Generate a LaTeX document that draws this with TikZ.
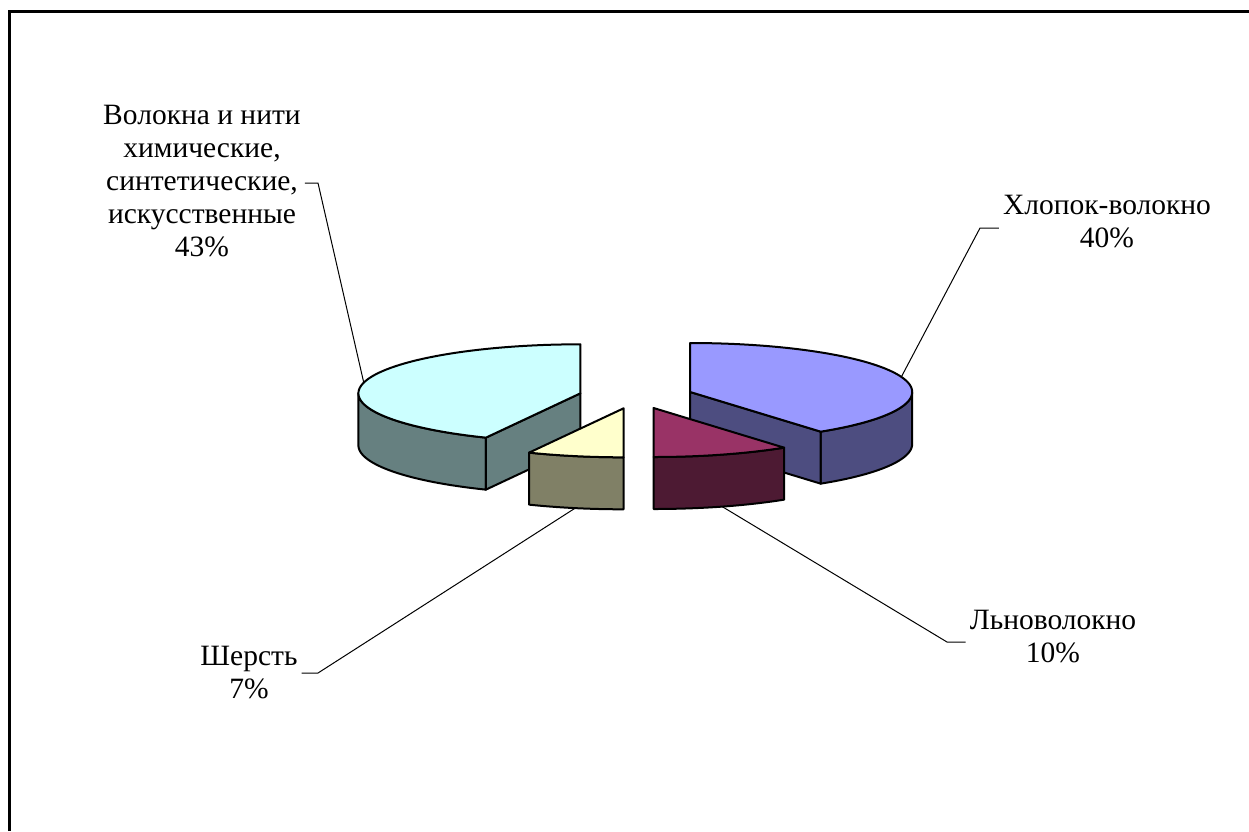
\documentclass[tikz,border=0pt]{standalone}
\usepackage{fontspec}
\setmainfont{Liberation Serif}
\usetikzlibrary{positioning, calc}
\definecolor{fibretop}{HTML}{CCFFFF}
\definecolor{fibreside}{HTML}{668080}
\definecolor{cottontop}{HTML}{9999FF}
\definecolor{cottonside}{HTML}{4D4D80}
\definecolor{flaxtop}{HTML}{993366}
\definecolor{flaxside}{HTML}{4D1A33}
\definecolor{wooltop}{HTML}{FFFFCC}
\definecolor{woolside}{HTML}{808066}

\begin{document}
\begin{tikzpicture}[
        x=1pt, y=-1pt,
        face/.style={draw=black, line width=2pt, line join=round},
        lbl/.style={align=center, font=\fontsize{29.5}{33}\selectfont, inner sep=4pt},
        leader/.style={line width=1pt},
        frame/.style={line width=2.5pt},
        declare function={ex(\t)=222*sin(\t); ey(\t)=-49*cos(\t);}
    ]
        \useasboundingbox (0,0) rectangle (1249,831);
        \draw[frame] (9.7,831) -- (9.7,11.7) -- (1249,11.7);

        % Back left: chemical fibres (205.2 -> 360)
        \draw[face, fill=fibreside] plot[domain=205.2:270, samples=40, variable=\t] ({580.4+ex(\t)},{393.3+ey(\t)})
            -- plot[domain=270:205.2, samples=40, variable=\t] ({580.4+ex(\t)},{445.3+ey(\t)}) -- cycle;
        \draw[face, fill=fibreside] (580.4,393.3) -- ({580.4+ex(205.2)},{393.3+ey(205.2)}) -- ++(0,52) -- (580.4,445.3) -- cycle;
        \draw[face, fill=fibretop] (580.4,393.3) -- plot[domain=205.2:360, samples=80, variable=\t] ({580.4+ex(\t)},{393.3+ey(\t)}) -- cycle;

        % Back right: cotton (0 -> 144)
        \draw[face, fill=cottonside] plot[domain=90:144, samples=40, variable=\t] ({690.2+ex(\t)},{392.0+ey(\t)})
            -- plot[domain=144:90, samples=40, variable=\t] ({690.2+ex(\t)},{444.0+ey(\t)}) -- cycle;
        \draw[face, fill=cottonside] (690.2,392.0) -- ({690.2+ex(144)},{392.0+ey(144)}) -- ++(0,52) -- (690.2,444.0) -- cycle;
        \draw[face, fill=cottontop] (690.2,392.0) -- plot[domain=0:144, samples=80, variable=\t] ({690.2+ex(\t)},{392.0+ey(\t)}) -- cycle;

        % Front left: wool (180 -> 205.2)
        \draw[face, fill=woolside] plot[domain=180:205.2, samples=30, variable=\t] ({623.6+ex(\t)},{408.3+ey(\t)})
            -- plot[domain=205.2:180, samples=30, variable=\t] ({623.6+ex(\t)},{460.3+ey(\t)}) -- cycle;
        \draw[face, fill=wooltop] (623.6,408.3) -- plot[domain=180:205.2, samples=30, variable=\t] ({623.6+ex(\t)},{408.3+ey(\t)}) -- cycle;

        % Front right: flax (144 -> 180)
        \draw[face, fill=flaxside] plot[domain=144:180, samples=30, variable=\t] ({653.6+ex(\t)},{408.0+ey(\t)})
            -- plot[domain=180:144, samples=30, variable=\t] ({653.6+ex(\t)},{460.0+ey(\t)}) -- cycle;
        \draw[face, fill=flaxtop] (653.6,408.0) -- plot[domain=144:180, samples=30, variable=\t] ({653.6+ex(\t)},{408.0+ey(\t)}) -- cycle;

        % Leader ends on the slices
        \coordinate (fibrept) at ({580.4+ex(282.6)},{393.3+ey(282.6)});
        \coordinate (cottonpt) at ({690.2+ex(72)},{392.0+ey(72)});
        \coordinate (flaxpt) at ({653.6+ex(162)},{460.0+ey(162)});
        \coordinate (woolpt) at ({623.6+ex(192.6)},{460.3+ey(192.6)});

        % Labels
        \node[lbl] (fibrelbl) at (202,181) {Волокна и нити\\химические,\\синтетические,\\искусственные\\43\%};
        \node[lbl] (cottonlbl) at (1107,222) {Хлопок-волокно\\40\%};
        \node[lbl] (flaxlbl) at (1053,637) {Льноволокно\\10\%};
        \node[lbl] (woollbl) at (249,673) {Шерсть\\7\%};

        % Leaders
        \coordinate (fibrekink) at (318,183);
        \coordinate (cottonkink) at (980,228);
        \coordinate (flaxkink) at (947,642);
        \coordinate (woolkink) at (318,673);
        \draw[leader] (fibrept) -- (fibrekink) -- (fibrelbl.east |- fibrekink);
        \draw[leader] (cottonpt) -- (cottonkink) -- (cottonlbl.west |- cottonkink);
        \draw[leader] (flaxpt) -- (flaxkink) -- (flaxlbl.west |- flaxkink);
        \draw[leader] (woolpt) -- (woolkink) -- (woollbl.east |- woolkink);
    \end{tikzpicture}
\end{document}
